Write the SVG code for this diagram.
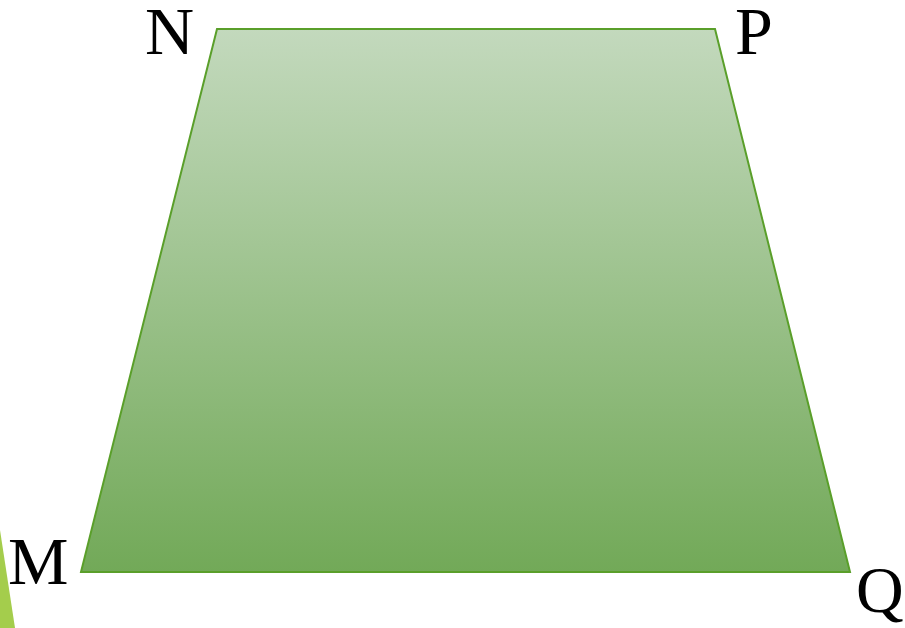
<svg xmlns="http://www.w3.org/2000/svg" width="905" height="628" viewBox="0 0 905 628">
<style>
.lbl{font-family:"Liberation Serif","Times New Roman",serif;font-size:68px;fill:#000}
</style>
<defs>
<linearGradient id="g" x1="0" y1="0" x2="0" y2="1">
<stop offset="0" stop-color="#c3d9bd"/>
<stop offset="1" stop-color="#72a958"/>
</linearGradient>
</defs>
<rect width="905" height="628" fill="#fff"/>
<polygon points="0,530 15,628 0,628" fill="#a4cd4c"/>
<g id="trapezoid">
<polygon points="217,29 715,29 850,572 81,572" fill="url(#g)" stroke="#5a9f2a" stroke-width="2"/>
</g>
<g id="labels">
<text class="lbl" x="145" y="54">N</text>
<text class="lbl" x="735" y="54">P</text>
<text class="lbl" x="8" y="584">M</text>
<text class="lbl" x="856" y="612" style="font-size:66px">Q</text>
</g>
</svg>
